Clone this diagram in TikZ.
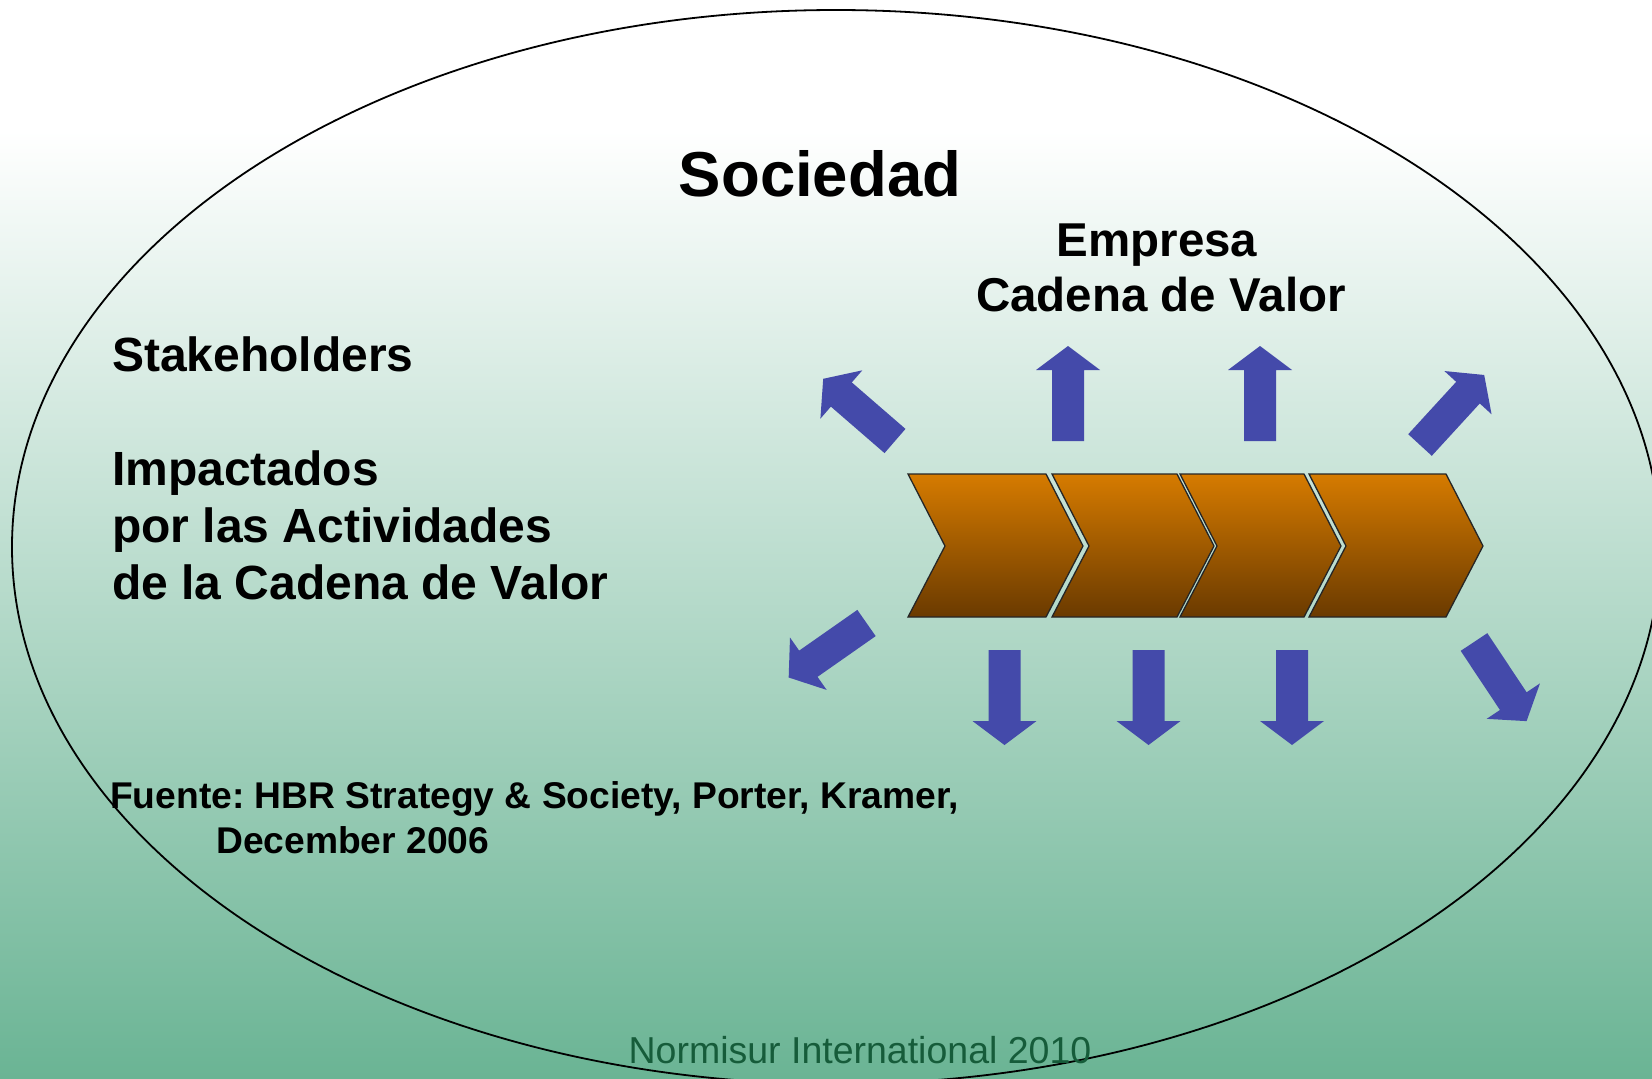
\documentclass[tikz,border=0pt]{standalone}
\usepackage{fontspec}
\setmainfont{Liberation Sans}
\frenchspacing
\definecolor{bgbottom}{RGB}{106,180,148}
\definecolor{arrowblue}{RGB}{68,74,170}
\definecolor{chevtop}{RGB}{214,123,0}
\definecolor{chevbot}{RGB}{106,58,0}
\definecolor{normgreen}{RGB}{22,92,58}
\pgfdeclareverticalshading{bgshade}{100bp}{color(0bp)=(bgbottom); color(25bp)=(bgbottom); color(75bp)=(white); color(100bp)=(white)}
\pgfdeclareverticalshading{chevshade}{100bp}{color(0bp)=(chevbot); color(25bp)=(chevbot); color(75bp)=(chevtop); color(100bp)=(chevtop)}
\newcommand\bluearrow[3]{\fill[arrowblue, shift={(#1,#2)}, rotate=#3] (0,-16) -- (71,-16) -- (71,-32) -- (95,0) -- (71,32) -- (71,16) -- (0,16) -- cycle;}
\newcommand\chevronshape[2]{\shadedraw[chevron] (#1,474) -- (#2,474) -- (#2+37,546) -- (#2,617) -- (#1,617) -- (#1+37,546) -- cycle;}
\tikzset{
  chevron/.style={shading=chevshade, draw=black!85, line width=1.3pt, line join=miter},
  bigtxt/.style={inner sep=0, anchor=base west, font=\bfseries\fontsize{48}{56}\selectfont},
  srctxt/.style={inner sep=0, anchor=base west, font=\bfseries\fontsize{37.2}{44}\selectfont},
}
\begin{document}
\begin{tikzpicture}[x=1pt,y=-1pt]
\useasboundingbox (0,0) rectangle (1652,1079);
\clip (0,0) rectangle (1652,1079);
\fill[white] (0,0) rectangle (1652,131);
\shade[shading=bgshade] (0,130) rectangle (1652,1079);
\draw[line width=1.8pt, black] (836,547) ellipse [x radius=824, y radius=537];

\node[inner sep=0, anchor=base, font=\bfseries\fontsize{63.5}{70}\selectfont] (sociedad) at (820,196) {Sociedad};
\node[inner sep=0, anchor=base, font=\bfseries\fontsize{47.5}{53}\selectfont] (empresa) at (1157,256) {Empresa};
\node[inner sep=0, anchor=base, font=\bfseries\fontsize{47.5}{53}\selectfont] (cadena) at (1161,311) {Cadena de Valor};

\node[bigtxt] (stake) at (112,371) {Stakeholders};
\node[bigtxt] (imp1) at (112,485) {Impactados};
\node[bigtxt] (imp2) at (112,542) {por las Actividades};
\node[bigtxt] (imp3) at (112,599) {de la Cadena de Valor};

\node[srctxt] (fuente) at (110,808) {Fuente: HBR Strategy \& Society, Porter, Kramer,};
\node[srctxt] (december) at (216,853) {December 2006};

\node[inner sep=0, anchor=base, text=normgreen, font=\fontsize{37.5}{44}\selectfont] (normisur) at (860,1063) {Normisur International 2010};

\chevronshape{908}{1046}
\chevronshape{1052}{1177}
\chevronshape{1180}{1304}
\chevronshape{1309}{1446}

\bluearrow{1068}{441}{90}
\bluearrow{1260}{441}{90}
\bluearrow{1004.5}{650}{-90}
\bluearrow{1148.5}{650}{-90}
\bluearrow{1292}{650}{-90}
\bluearrow{895}{441}{139.1}
\bluearrow{866.5}{623}{215}
\bluearrow{1420}{445}{47.5}
\bluearrow{1474}{642}{-56.4}
\end{tikzpicture}
\end{document}
